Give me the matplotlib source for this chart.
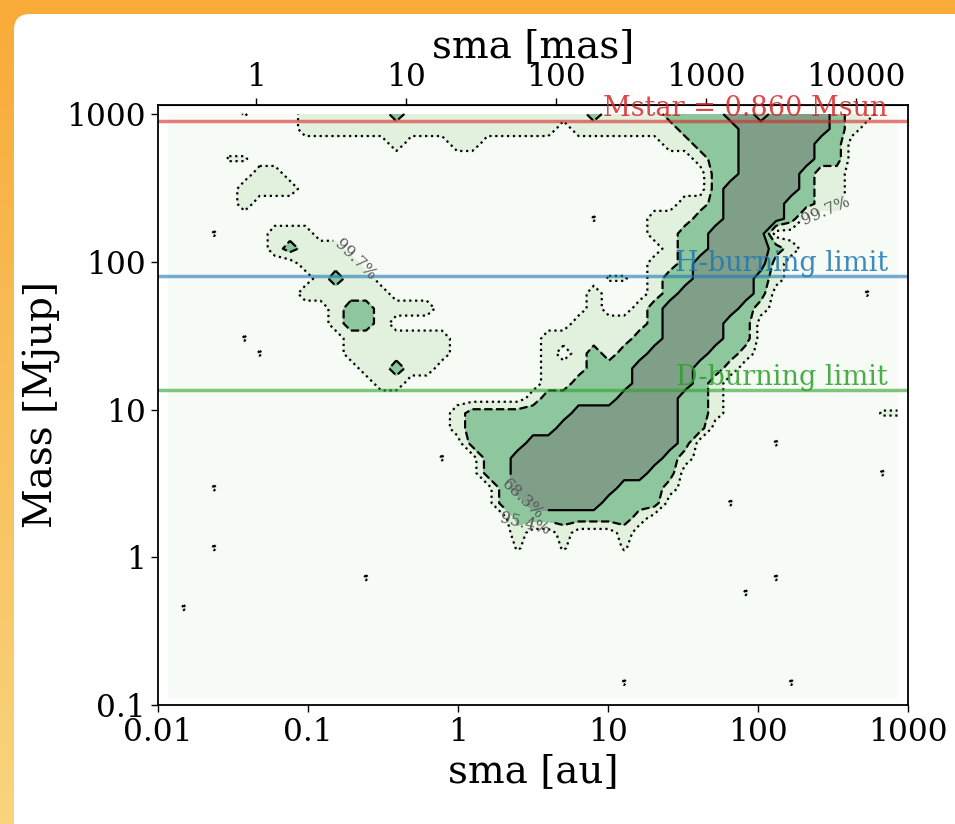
import numpy as np
import matplotlib
matplotlib.use('Agg')
import matplotlib.pyplot as plt
from matplotlib.colors import LinearSegmentedColormap
from matplotlib.patches import FancyBboxPatch
from matplotlib.transforms import IdentityTransform
from matplotlib.ticker import FuncFormatter, NullLocator

plt.rcParams['font.family'] = 'DejaVu Serif'

### data

# bin centres of the posterior map (log10)
log_sma = np.linspace(-1.93, 2.93, 49)    # au
log_mass = np.linspace(3.0, -0.95, 40)    # Mjup, first row = top of plot

# highest confidence region reached by each bin
# 3 = 68.3%, 2 = 95.4%, 1 = 99.7%, . = outside, : = lone bin just above 99.7%
level_rows = [
    ".....:...1" "1111121111" "1111111121" "1112222332" "3333211..",
    ".........1" "1111111111" "111111.111" "1111222233" "333321...",
    ".........." ".....1...1" "1........." "...1122233" "33322....",
    "....::...." ".........." ".........." ".....12233" "33322....",
    "......11.." ".........." ".........." "......2233" "33211....",
    ".....1111." ".........." ".........." "......2333" "33211....",
    ".....1...." ".........." ".........." "....112333" "32211....",
    ".........." ".........." "........:." "..11122333" "32.......",
    "...:...111" ".........." ".........." "..11223333" ".........",
    ".......121" "11........" ".........." "...1223333" "21.......",
    ".........1" "111......." ".........." "..11233333" "1........",
    ".........." "1211......" ".........:" ":.12233332" "1........",
    ".........1" "11111....." "........1." "..12333332" "......:..",
    ".........." ".1221111.." "........1." ".123333321" ".........",
    ".........." ".1221....." ".......111" "112333322." ".........",
    ".....:...." "..1111111." ".....11111" "122333322." ".........",
    "......:..." "..1111111." ".....1.121" "223333221." ".........",
    ".........." "...11211.." ".....11122" "23333221.." ".........",
    ".........." "....11...." ".....11222" "2333321..." ".........",
    ".........." ".........." "....122222" "3333221..." ".........",
    ".........." ".........1" "2222222333" "3333221..." ".......::",
    ".........." ".........1" "2222223333" "333322...." ".........",
    ".........." ".........." "2222333333" "33332....." ":........",
    ".........." "........:." ".223333333" "33321....." ".........",
    ".........." ".........." ".223333333" "3322......" ".......:.",
    "...:......" ".........." "..23333333" "2221......" ".........",
    ".........." ".........." "..22333332" "222....:.." ".........",
    ".........." ".........." "...2222222" "21........" ".........",
    ".........." ".........." "...1..1..." "1........." ".........",
    "...:......" ".........." "...:..:..." ":........." ".........",
    "." * 49,
    ".........." "...:......" ".........." ".........." ":........",
    ".........." ".........." ".........." "........:." ".........",
    ".:........" ".........." ".........." ".........." ".........",
    "." * 49,
    "." * 49,
    "." * 49,
    "." * 49,
    ".........." ".........." ".........." ":........." ".:.......",
    "." * 49,
]
level_value = {'.': 0.0, ':': 0.6, '1': 1.0, '2': 2.0, '3': 3.0}

conf_levels = [0.5, 1.5, 2.5]
conf_names = ['99.7%', '95.4%', '68.3%']
conf_styles = [':', '--', '-']
fill_colors = ['#f7fbf5', '#e1f1dd', '#8ec79d', '#7f9f89']

distance_pc = 45.2     # for the mas axis
mstar = 0.860          # Msun
mjup_per_msun = 1047.6
h_burning = 80         # Mjup
d_burning = 13.5       # Mjup

Z = np.array([[level_value[c] for c in row] for row in level_rows])
X, Y = np.meshgrid(10 ** log_sma, 10 ** log_mass)

fig = plt.figure(figsize=(9.55, 8.24), dpi=100)

# orange page + white card behind the plot
bg = fig.add_axes([0, 0, 1, 1], zorder=-10)
page = LinearSegmentedColormap.from_list('page', ['#f8ab38', '#f9d47e'])
bg.imshow(np.linspace(0, 1, 100).reshape(-1, 1), cmap=page, aspect='auto', extent=[0, 1, 0, 1])
bg.axis('off')
card = FancyBboxPatch((14, -40), 1000, 824 - 14 + 40, boxstyle='round,pad=0,rounding_size=16',
                      transform=IdentityTransform(), facecolor='white', edgecolor='none', zorder=-5)
fig.patches.append(card)

ax = fig.add_axes([158 / 955, 1 - 705 / 824, 750 / 955, 600 / 824])
ax.set_xscale('log')
ax.set_yscale('log')

ax.contourf(X, Y, Z, levels=[-1, 0.5, 1.5, 2.5, 4], colors=fill_colors)
cs = ax.contour(X, Y, Z, levels=conf_levels, colors='k', linestyles=conf_styles, linewidths=1.6)
ax.clabel(cs, fmt=dict(zip(conf_levels, conf_names)), fontsize=11.5, colors='0.35', inline=True,
          manual=[(10 ** -0.68, 10 ** 2.02), (10 ** 2.45, 10 ** 2.335),
                  (10 ** 0.45, 10 ** 0.2), (10 ** 0.42, 10 ** 0.38)])

# reference masses
lines = [(mstar * mjup_per_msun, 'tab:red', 'Mstar = %.3f Msun' % mstar),
         (h_burning, 'tab:blue', 'H-burning limit'),
         (d_burning, 'tab:green', 'D-burning limit')]
for yval, col, txt in lines:
    ax.axhline(yval, color=col, alpha=0.6, lw=2.5)
    ax.text(735, yval * 1.08, txt, color=col, alpha=0.85, ha='right', va='baseline', fontsize=19.5)

ax.set_xlim(0.01, 1000)
ax.set_ylim(0.1, 1151)

fmt = FuncFormatter(lambda v, p: '%g' % v)
ax.set_xticks([0.01, 0.1, 1, 10, 100, 1000])
ax.set_yticks([0.1, 1, 10, 100, 1000])
ax.xaxis.set_major_formatter(fmt)
ax.yaxis.set_major_formatter(fmt)
ax.xaxis.set_minor_locator(NullLocator())
ax.yaxis.set_minor_locator(NullLocator())
ax.tick_params(labelsize=22.5, length=5, width=1)
for s in ax.spines.values():
    s.set_linewidth(1.3)
ax.set_xlabel('sma [au]', fontsize=28)
ax.set_ylabel('Mass [Mjup]', fontsize=28)

# same axis in milliarcseconds
sec = ax.secondary_xaxis('top', functions=(lambda a: a / distance_pc * 1000,
                                           lambda m: m * distance_pc / 1000))
sec.set_xticks([1, 10, 100, 1000, 10000])
sec.xaxis.set_major_formatter(fmt)
sec.xaxis.set_minor_locator(NullLocator())
sec.tick_params(labelsize=22.5, length=5, width=1)
sec.set_xlabel('sma [mas]', fontsize=28)

fig.savefig('out.png', dpi=100)
